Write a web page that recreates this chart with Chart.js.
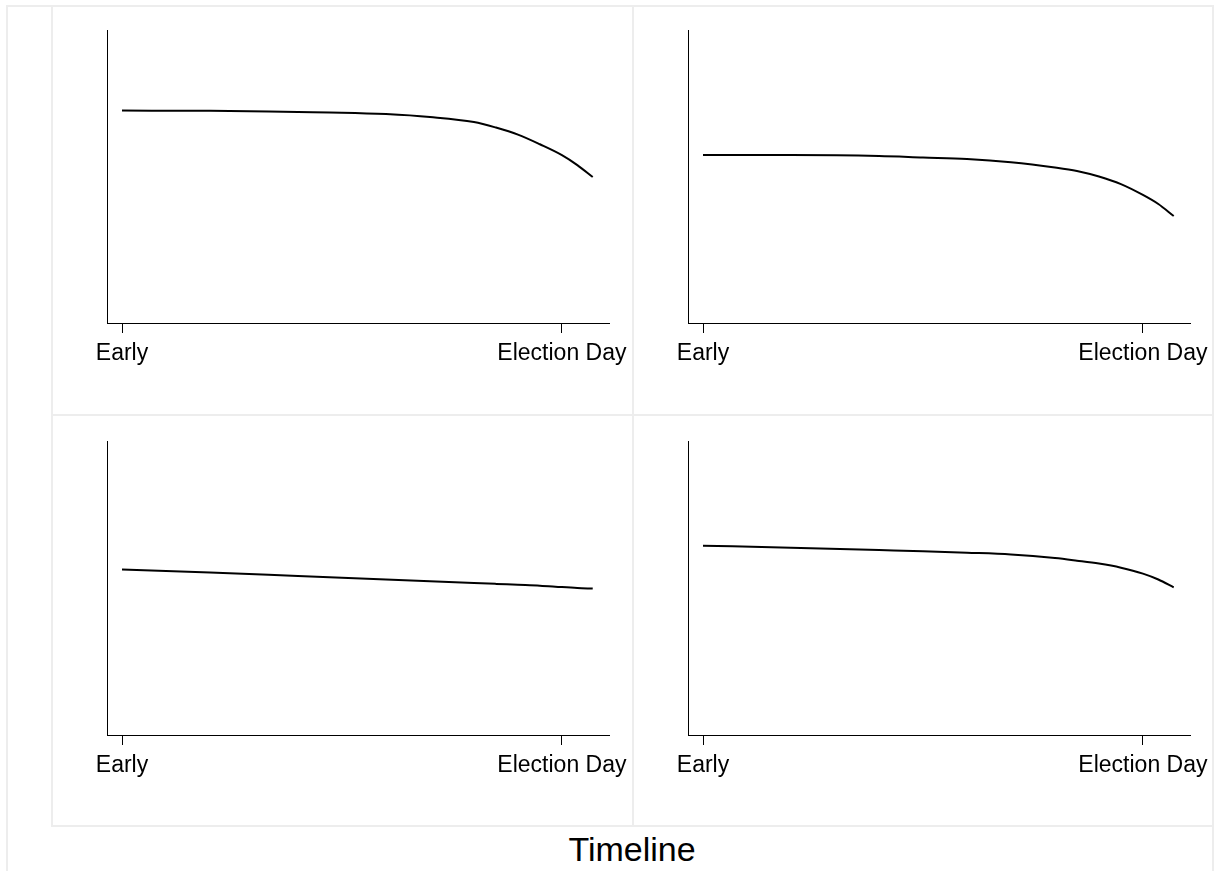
<!DOCTYPE html>
<html>
<head>
<meta charset="utf-8">
<script src="https://cdn.jsdelivr.net/npm/chart.js@4/dist/chart.umd.min.js"></script>
<style>
  body { margin: 0; background: #fff; font-family: "Liberation Sans", Arial, sans-serif; }
  #page { position: relative; width: 1224px; height: 871px; overflow: hidden; }
  .frame { position: absolute; box-sizing: border-box; border: 2px solid #ededed; }
  canvas { position: absolute; }
  #xtitle { position: absolute; left: 0; width: 1264px; top: 832px; text-align: center;
            font-size: 34px; line-height: 34px; color: #000; }
</style>
</head>
<body>
<div id="page">
  <div class="frame" style="left:6px; top:5px; width:1208px; height:920px;"></div>
  <div class="frame" style="left:51px; top:5px; width:583px; height:411px;"></div>
  <div class="frame" style="left:632px; top:5px; width:582px; height:411px;"></div>
  <div class="frame" style="left:51px; top:414px; width:583px; height:413px;"></div>
  <div class="frame" style="left:632px; top:414px; width:582px; height:413px;"></div>
  <canvas id="c1" width="580" height="409" style="left:52px; top:5px;"></canvas>
  <canvas id="c2" width="580" height="409" style="left:632px; top:5px;"></canvas>
  <canvas id="c3" width="580" height="411" style="left:52px; top:414px;"></canvas>
  <canvas id="c4" width="580" height="411" style="left:632px; top:414px;"></canvas>
  <div id="xtitle">Timeline</div>
</div>
<script>
// timeline position: 0 = Early, 1 = Election Day
const timeline = [0, 0.2, 0.4, 0.5, 0.6, 0.7, 0.8, 0.85, 0.9, 0.95, 1.0, 1.035, 1.07];
const tickValues = [0, 1];
const tickLabels = ['Early', 'Election Day'];

const seriesTopLeft = [72.5, 72.4, 72.0, 71.8, 71.3, 70.3, 68.6, 66.7, 64.3, 61.0, 57.3, 53.9, 49.8];
const seriesTopRight = [57.3, 57.3, 57.0, 56.5, 56.0, 54.9, 53.1, 51.9, 50.0, 47.4, 43.7, 40.6, 36.5];
const seriesBottomLeft = [56.3, 55.3, 54.1, 53.5, 52.9, 52.3, 51.7, 51.4, 51.1, 50.8, 50.3, 50.0, 49.8];
const seriesBottomRight = [64.4, 63.7, 62.9, 62.5, 62.0, 61.4, 60.2, 59.3, 58.3, 56.9, 54.9, 52.9, 50.2];

function makePanel(id, values, box) {
    const ctx = document.getElementById(id).getContext('2d');
    return new Chart(ctx, {
        type: 'line',
        data: {
            datasets: [{
                data: timeline.map((x, i) => ({ x: x, y: values[i] })),
                borderColor: '#000',
                borderWidth: 2,
                pointRadius: 0,
                cubicInterpolationMode: 'monotone',
                fill: false
            }]
        },
        options: {
            responsive: false,
            animation: false,
            events: [],
            layout: { padding: { left: 0, right: box.right, top: box.top, bottom: 0 } },
            plugins: { legend: { display: false }, tooltip: { enabled: false } },
            scales: {
                x: {
                    type: 'linear',
                    min: -0.0341,
                    max: 1.107,
                    afterBuildTicks: scale => {
                        scale.ticks = tickValues.map(v => ({ value: v }));
                    },
                    afterFit: scale => {
                        scale.height = box.xHeight;
                        // labels may overhang; keep the plot box fixed
                        scale.paddingLeft = 0;
                        scale.paddingRight = 0;
                    },
                    grid: { display: true, drawOnChartArea: false, drawTicks: true, tickLength: 10, color: '#000', lineWidth: 1 },
                    border: { display: true, color: '#000', width: 1 },
                    ticks: {
                        autoSkip: false,
                        maxRotation: 0,
                        padding: 7,
                        color: '#000',
                        font: { family: '"Liberation Sans", Arial, sans-serif', size: 23 },
                        callback: v => tickLabels[tickValues.indexOf(v)]
                    }
                },
                y: {
                    min: 0,
                    max: 100,
                    afterFit: scale => { scale.width = box.left; },
                    grid: { display: false },
                    border: { display: true, color: '#000', width: 1 },
                    ticks: { display: false }
                }
            }
        }
    });
}

makePanel('c1', seriesTopLeft, { left: 55, right: 23, top: 25, xHeight: 91 });
makePanel('c2', seriesTopRight, { left: 56, right: 22, top: 25, xHeight: 91 });
makePanel('c3', seriesBottomLeft, { left: 55, right: 23, top: 27, xHeight: 90 });
makePanel('c4', seriesBottomRight, { left: 56, right: 22, top: 27, xHeight: 90 });
</script>
</body>
</html>
